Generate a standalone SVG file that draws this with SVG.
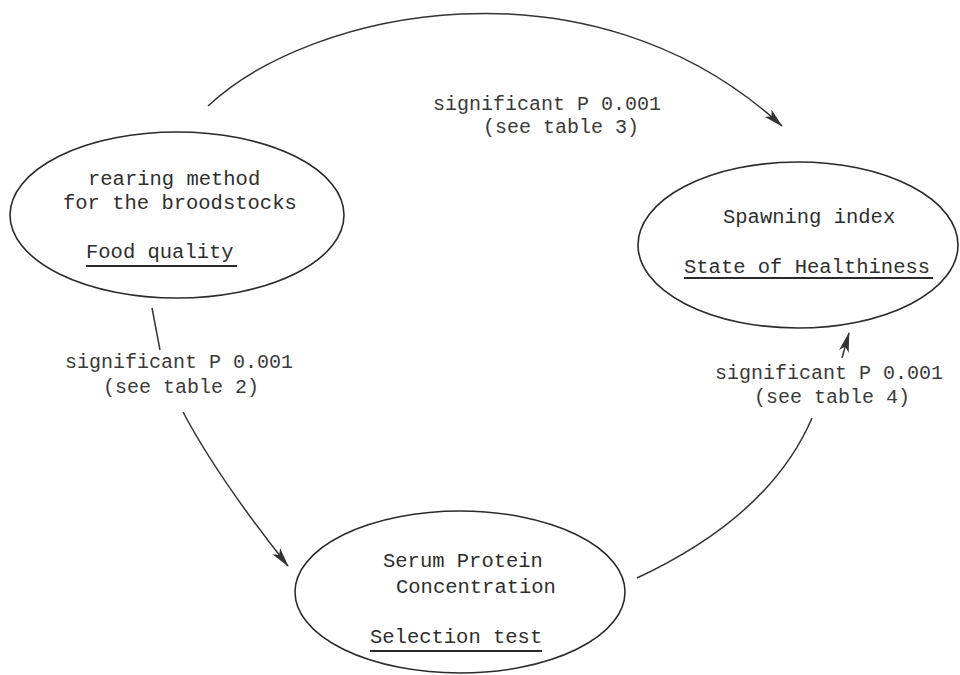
<svg xmlns="http://www.w3.org/2000/svg" width="960" height="675" viewBox="0 0 960 675">
<style>
.node ellipse{fill:none;stroke:#2a2a2a;stroke-width:1.6}
text{font-family:"Liberation Mono","DejaVu Sans Mono",monospace;font-size:20.5px;fill:#2e2e2e}
.ul{stroke:#2a2a2a;stroke-width:1.8}
.edge{fill:none;stroke:#333;stroke-width:1.5}
.lbl{font-size:20px;fill:#3a3a3a}
</style>
<defs>
<marker id="ah" viewBox="0 0 20 10" refX="19" refY="5" markerWidth="20" markerHeight="10" markerUnits="userSpaceOnUse" orient="auto">
<path d="M0,0 L20,5 L0,10 L5,5 Z" fill="#333"/>
</marker>
</defs>
<rect width="960" height="675" fill="#fff"/>
<g id="connectors">
<path class="edge" d="M208,106 C310,10 590,-50 782,126" marker-end="url(#ah)"/>
<path class="edge" d="M152,308 L160,350"/>
<path class="edge" d="M183,412 Q218,478 288,566" marker-end="url(#ah)"/>
<path class="edge" d="M637,578 Q770,516 812,418"/>
<path class="edge" d="M842,358 L849,333" marker-end="url(#ah)"/>
<text class="lbl" x="433" y="110">significant P 0.001</text>
<text class="lbl" x="483" y="133">(see table 3)</text>
<text class="lbl" x="65" y="368">significant P 0.001</text>
<text class="lbl" x="103" y="393">(see table 2)</text>
<text class="lbl" x="715" y="379">significant P 0.001</text>
<text class="lbl" x="754" y="403">(see table 4)</text>
</g>
<g id="node-rearing" class="node">
<ellipse cx="177" cy="215" rx="167" ry="83"/>
<text x="88" y="185">rearing method</text>
<text x="63" y="209">for the broodstocks</text>
<text x="86" y="258">Food quality</text>
<line class="ul" x1="86" y1="266" x2="237" y2="266"/>
</g>
<g id="node-spawning" class="node">
<ellipse cx="798" cy="245" rx="160" ry="83"/>
<text x="723" y="223">Spawning index</text>
<text x="684" y="273">State of Healthiness</text>
<line class="ul" x1="684" y1="278" x2="933" y2="278"/>
</g>
<g id="node-serum" class="node">
<ellipse cx="460" cy="592" rx="165" ry="81"/>
<text x="383" y="567">Serum Protein</text>
<text x="396" y="593">Concentration</text>
<text x="370" y="643">Selection test</text>
<line class="ul" x1="370" y1="651" x2="542" y2="651"/>
</g>
</svg>
